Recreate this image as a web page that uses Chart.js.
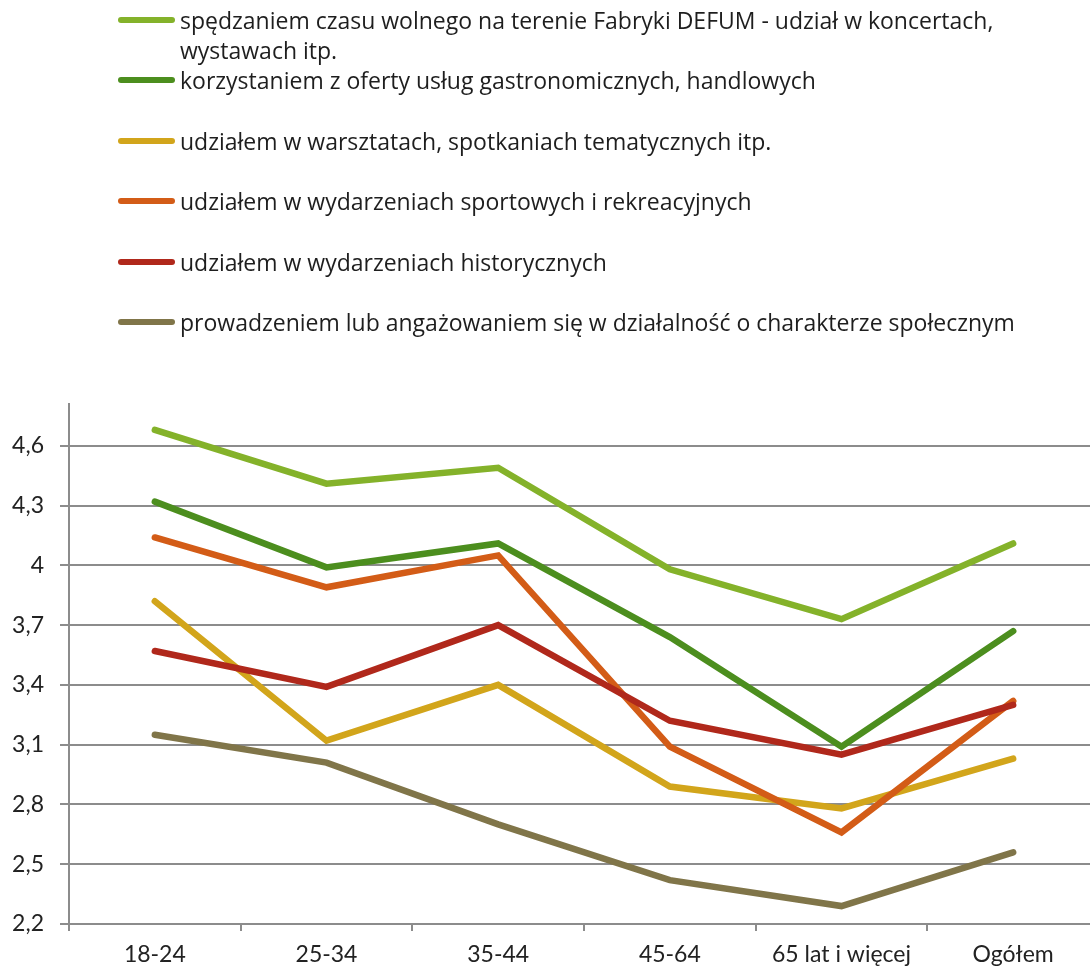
<!DOCTYPE html>
<html>
<head>
<meta charset="utf-8">
<script src="https://cdn.jsdelivr.net/npm/chart.js@4/dist/chart.umd.min.js"></script>
<style>
  html, body { margin: 0; padding: 0; background: #fff; overflow: hidden; }
  #wrap { position: relative; width: 1090px; height: 972px; overflow: hidden; }
  #chartBox { position: absolute; left: 0; top: 0; width: 1099px; height: 972px; }
  #legend { position: absolute; left: 0; top: 0; width: 1090px; }
  .item { position: absolute; left: 118px; display: flex; align-items: flex-start; }
  .swatch { width: 57px; height: 6px; border-radius: 3px; margin-top: 12px; margin-right: 5px; flex: none; }
  .label { font-family: "Open Sans", Lato, sans-serif; font-size: 23px; line-height: 30px; color: #1e1e1e; width: 850px; }
</style>
</head>
<body>
<div id="wrap">
  <div id="chartBox"><canvas id="lineChart"></canvas></div>
  <div id="legend"></div>
</div>
<script>
// 카테고리 / 시리즈 데이터
const categories = ["18-24", "25-34", "35-44", "45-64", "65 lat i więcej", "Ogółem"];

const seriesNames = [
  "spędzaniem czasu wolnego na terenie Fabryki DEFUM - udział w koncertach, wystawach itp.",
  "korzystaniem z oferty usług gastronomicznych, handlowych",
  "udziałem w warsztatach, spotkaniach tematycznych itp.",
  "udziałem w wydarzeniach sportowych i rekreacyjnych",
  "udziałem w wydarzeniach historycznych",
  "prowadzeniem lub angażowaniem się w działalność o charakterze społecznym"
];

const wolnyCzas     = [4.68, 4.41, 4.49, 3.98, 3.73, 4.11];
const gastronomia   = [4.32, 3.99, 4.11, 3.64, 3.09, 3.67];
const warsztaty     = [3.82, 3.12, 3.40, 2.89, 2.78, 3.03];
const sport         = [4.14, 3.89, 4.05, 3.09, 2.66, 3.32];
const historia      = [3.57, 3.39, 3.70, 3.22, 3.05, 3.30];
const spoleczne     = [3.15, 3.01, 2.70, 2.42, 2.29, 2.56];

const seriesValues = [wolnyCzas, gastronomia, warsztaty, sport, historia, spoleczne];
const seriesColors = ["#84B22A", "#4C8E1E", "#D2A51B", "#D35C17", "#B0281B", "#807549"];

const yTicks = [2.2, 2.5, 2.8, 3.1, 3.4, 3.7, 4, 4.3, 4.6];

const FONT = "Lato, 'Open Sans', sans-serif";
const GRID = "#8c8c8c";

// 범례 (HTML)
const legendEl = document.getElementById("legend");
seriesNames.forEach((name, i) => {
  const item = document.createElement("div");
  item.className = "item";
  item.style.top = (5 + i * 60.4) + "px";
  item.innerHTML = `<div class="swatch" style="background:${seriesColors[i]}"></div><div class="label">${name}</div>`;
  legendEl.appendChild(item);
});

const datasets = seriesValues.map((vals, i) => ({
  label: seriesNames[i],
  data: vals,
  borderColor: seriesColors[i],
  backgroundColor: seriesColors[i],
  borderWidth: 6.5,
  pointRadius: 0,
  tension: 0,
  borderCapStyle: "round",
  borderJoinStyle: "miter",
  order: seriesValues.length - i // 뒤 시리즈가 위에 그려지게
}));

new Chart(document.getElementById("lineChart"), {
  type: "line",
  data: { labels: categories, datasets: datasets },
  options: {
    responsive: true,
    maintainAspectRatio: false,
    animation: false,
    layout: { padding: { top: 404, left: 0, right: 0, bottom: 0 } },
    plugins: { legend: { display: false }, tooltip: { enabled: false } },
    scales: {
      x: {
        offset: true,
        grid: { offset: true, drawOnChartArea: false, drawTicks: true, tickLength: 7, color: GRID, lineWidth: 2 },
        border: { display: true, color: GRID, width: 2 },
        ticks: { font: { family: FONT, size: 23 }, color: "#222", padding: 10, maxRotation: 0, autoSkip: false },
        afterFit: (scale) => { scale.height = 48; }
      },
      y: {
        min: 2.2,
        max: 4.81,
        afterBuildTicks: (scale) => { scale.ticks = yTicks.map(v => ({ value: v })); },
        grid: { color: GRID, lineWidth: 2, tickLength: 9 },
        border: { display: true, color: GRID, width: 2 },
        ticks: {
          font: { family: FONT, size: 23 },
          color: "#222",
          padding: 16,
          callback: (v) => String(Math.round(v * 10) / 10).replace(".", ",")
        },
        afterFit: (scale) => { scale.width = 69; }
      }
    }
  }
});
</script>
</body>
</html>
